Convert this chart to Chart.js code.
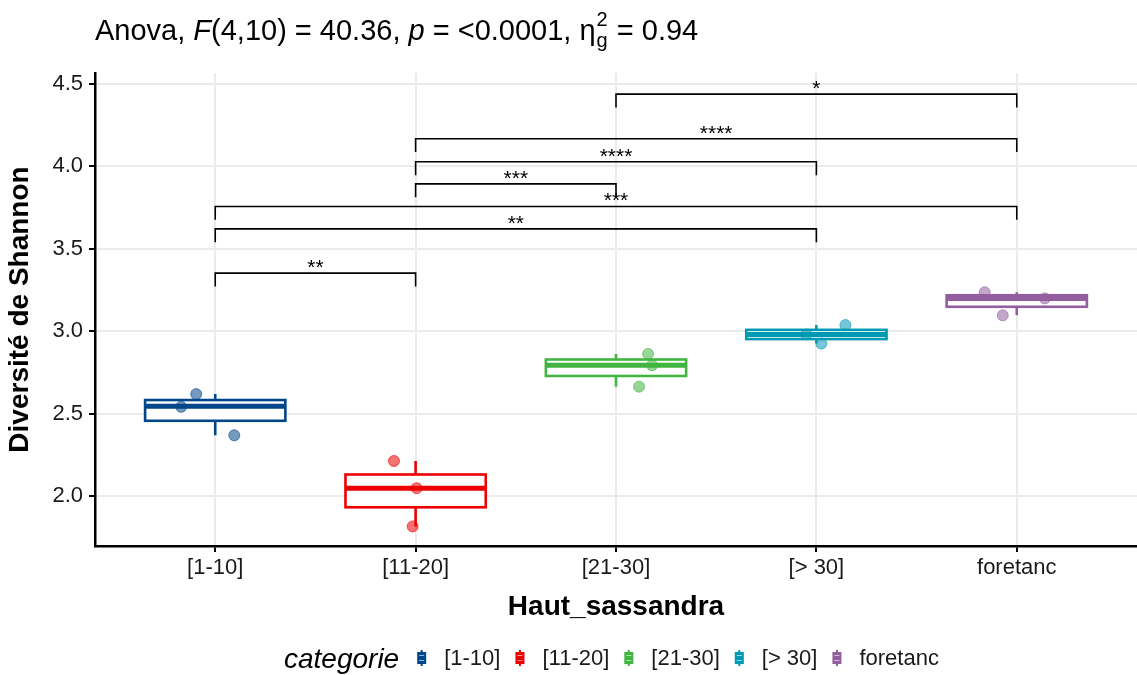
<!DOCTYPE html>
<html>
<head>
<meta charset="utf-8">
<script src="https://cdn.jsdelivr.net/npm/chart.js@4.4.1/dist/chart.umd.min.js"></script>
<style>
  html, body { margin: 0; padding: 0; background: #fff; }
</style>
</head>
<body>
<canvas id="myChart" width="1137" height="675"></canvas>
<script>
var categories = ['[1-10]', '[11-20]', '[21-30]', '[> 30]', 'foretanc'];
var colors = ['#00468B', '#ED0000', '#42B540', '#0099B4', '#925E9F'];

// jittered observations: value and horizontal offset from the category
var pointValues = [
    [2.618, 2.541, 2.368],
    [2.212, 2.047, 1.815],
    [2.862, 2.793, 2.663],
    [3.037, 2.980, 2.925],
    [3.236, 3.199, 3.096]
];
var pointOffsets = [
    [-0.095, -0.17, 0.095],
    [-0.108, 0.005, -0.015],
    [0.16, 0.18, 0.115],
    [0.145, -0.05, 0.025],
    [-0.16, 0.14, -0.07]
];

// box statistics
var boxMin    = [2.368, 1.815, 2.663, 2.925, 3.096];
var boxQ1     = [2.456, 1.931, 2.728, 2.952, 3.148];
var boxMedian = [2.545, 2.047, 2.793, 2.980, 3.199];
var boxQ3     = [2.582, 2.130, 2.828, 3.008, 3.218];
var boxMax    = [2.618, 2.212, 2.862, 3.037, 3.236];

// significance brackets
var bracketFrom   = [0, 0, 0, 1, 1, 1, 2];
var bracketTo     = [1, 3, 4, 2, 3, 4, 4];
var bracketY      = [3.352, 3.621, 3.757, 3.894, 4.028, 4.168, 4.439];
var bracketLabels = ['**', '**', '***', '***', '****', '****', '*'];

var yTicks = [2.0, 2.5, 3.0, 3.5, 4.0, 4.5];

var FONT = "'Liberation Sans', Arial, sans-serif";

function rgba(hex, a){
    var n = parseInt(hex.slice(1), 16);
    return 'rgba(' + (n >> 16) + ',' + ((n >> 8) & 255) + ',' + (n & 255) + ',' + a + ')';
}

var datasets = categories.map(function(cat, i){
    return {
        label: cat,
        data: pointValues[i].map(function(v, j){ return {x: i + pointOffsets[i][j], y: v}; }),
        backgroundColor: rgba(colors[i], 0.55),
        borderColor: rgba(colors[i], 0.6),
        borderWidth: 1,
        pointRadius: 5.5
    };
});

var boxPlugin = {
    id: 'boxes',
    beforeDatasetsDraw: function(chart){
        var ctx = chart.ctx, xs = chart.scales.x, ys = chart.scales.y;
        var half = (xs.getPixelForValue(0.35) - xs.getPixelForValue(0));
        ctx.save();
        for (var i = 0; i < categories.length; i++) {
            var cx = xs.getPixelForValue(i);
            var yq1 = ys.getPixelForValue(boxQ1[i]), yq3 = ys.getPixelForValue(boxQ3[i]);
            ctx.strokeStyle = colors[i];
            ctx.lineWidth = 2.6;
            // whiskers
            ctx.beginPath();
            ctx.moveTo(cx, yq3); ctx.lineTo(cx, ys.getPixelForValue(boxMax[i]));
            ctx.moveTo(cx, yq1); ctx.lineTo(cx, ys.getPixelForValue(boxMin[i]));
            ctx.stroke();
            // box
            ctx.fillStyle = '#fff';
            ctx.fillRect(cx - half, yq3, 2 * half, yq1 - yq3);
            ctx.strokeRect(cx - half, yq3, 2 * half, yq1 - yq3);
            // median
            var ym = ys.getPixelForValue(boxMedian[i]);
            ctx.lineWidth = 5;
            ctx.beginPath();
            ctx.moveTo(cx - half, ym); ctx.lineTo(cx + half, ym);
            ctx.stroke();
        }
        ctx.restore();
    },
    afterDatasetsDraw: function(chart){
        var ctx = chart.ctx, xs = chart.scales.x, ys = chart.scales.y;
        ctx.save();
        ctx.strokeStyle = '#000';
        ctx.lineWidth = 1.6;
        ctx.fillStyle = '#000';
        ctx.font = '21px ' + FONT;
        ctx.textAlign = 'center';
        ctx.textBaseline = 'alphabetic';
        for (var k = 0; k < bracketY.length; k++) {
            var x1 = xs.getPixelForValue(bracketFrom[k]), x2 = xs.getPixelForValue(bracketTo[k]);
            var y = ys.getPixelForValue(bracketY[k]);
            var yTip = ys.getPixelForValue(bracketY[k] - 0.081);
            ctx.beginPath();
            ctx.moveTo(x1, yTip); ctx.lineTo(x1, y); ctx.lineTo(x2, y); ctx.lineTo(x2, yTip);
            ctx.stroke();
            ctx.fillText(bracketLabels[k], (x1 + x2) / 2, y + 1);
        }
        ctx.restore();
    },
    afterDraw: function(chart){
        var ctx = chart.ctx, area = chart.chartArea;
        ctx.save();
        ctx.fillStyle = '#000';
        ctx.textBaseline = 'alphabetic';
        ctx.textAlign = 'left';

        // title
        var x = 95, base = 40;
        var parts = [
            ['Anova, ', ''], ['F', 'italic '], ['(4,10) = 40.36, ', ''], ['p', 'italic '],
            [' = <0.0001, ', ''], ['\u03b7', '']
        ];
        parts.forEach(function(p){
            ctx.font = p[1] + '29px ' + FONT;
            ctx.fillText(p[0], x, base);
            x += ctx.measureText(p[0]).width;
        });
        ctx.font = '20px ' + FONT;
        ctx.fillText('2', x + 1, base - 14);
        ctx.fillText('g', x + 1, base + 7);
        x += ctx.measureText('g').width + 2;
        ctx.font = '29px ' + FONT;
        ctx.fillText(' = 0.94', x, base);

        // axis titles
        ctx.font = 'bold 28px ' + FONT;
        ctx.textAlign = 'center';
        ctx.textBaseline = 'middle';
        ctx.fillText('Haut_sassandra', (area.left + area.right) / 2, 607);
        ctx.save();
        ctx.translate(20, (area.top + area.bottom) / 2);
        ctx.rotate(-Math.PI / 2);
        ctx.fillText('Diversit\u00e9 de Shannon', 0, 0);
        ctx.restore();

        // legend
        var lx = 284, ly = 658;
        ctx.textAlign = 'left';
        ctx.textBaseline = 'alphabetic';
        ctx.font = 'italic 28px ' + FONT;
        ctx.fillText('categorie', lx, 668);
        lx += ctx.measureText('categorie').width + 18;
        ctx.font = '22px ' + FONT;
        ctx.textBaseline = 'middle';
        for (var i = 0; i < categories.length; i++) {
            ctx.strokeStyle = colors[i];
            ctx.fillStyle = colors[i];
            ctx.lineWidth = 2;
            ctx.beginPath();
            ctx.moveTo(lx + 4.5, ly - 8); ctx.lineTo(lx + 4.5, ly + 8);
            ctx.stroke();
            ctx.fillRect(lx, ly - 6, 9, 12);
            ctx.strokeStyle = 'rgba(255,255,255,0.6)';
            ctx.lineWidth = 1;
            ctx.beginPath();
            ctx.moveTo(lx + 2, ly - 2.5); ctx.lineTo(lx + 7, ly - 2.5);
            ctx.moveTo(lx + 2, ly + 2.5); ctx.lineTo(lx + 7, ly + 2.5);
            ctx.stroke();
            lx += 9 + 18;
            ctx.fillStyle = '#1a1a1a';
            ctx.fillText(categories[i], lx, ly + 1);
            lx += ctx.measureText(categories[i]).width + 15;
        }
        ctx.restore();
    }
};

var ctx = document.getElementById('myChart').getContext('2d');
var chart = new Chart(ctx, {
    type: 'scatter',
    data: { datasets: datasets },
    options: {
        responsive: false,
        animation: false,
        devicePixelRatio: 1,
        layout: { autoPadding: false, padding: { left: 0, right: 0, top: 73, bottom: 89 } },
        plugins: {
            legend: { display: false },
            tooltip: { enabled: false }
        },
        scales: {
            x: {
                type: 'linear',
                min: -0.6,
                max: 4.6,
                afterBuildTicks: function(scale){
                    scale.ticks = categories.map(function(c, i){ return {value: i}; });
                },
                afterFit: function(scale){ scale.height = 40; },
                ticks: {
                    callback: function(v){ return categories[v]; },
                    font: { size: 22, family: FONT },
                    color: '#1a1a1a',
                    padding: 3,
                    maxRotation: 0
                },
                grid: { color: '#EBEBEB', lineWidth: 2, tickColor: '#000', tickLength: 6, tickWidth: 2 },
                border: { color: '#000', width: 2.5 }
            },
            y: {
                min: 1.696,
                max: 4.567,
                afterBuildTicks: function(scale){
                    scale.ticks = yTicks.map(function(v){ return {value: v}; });
                },
                afterFit: function(scale){ scale.width = 95; },
                ticks: {
                    callback: function(v){ return v.toFixed(1); },
                    font: { size: 22, family: FONT },
                    color: '#1a1a1a',
                    padding: 6
                },
                grid: { color: '#EBEBEB', lineWidth: 2, tickColor: '#000', tickLength: 6, tickWidth: 2 },
                border: { color: '#000', width: 2.5 }
            }
        }
    },
    plugins: [boxPlugin]
});
</script>
</body>
</html>
